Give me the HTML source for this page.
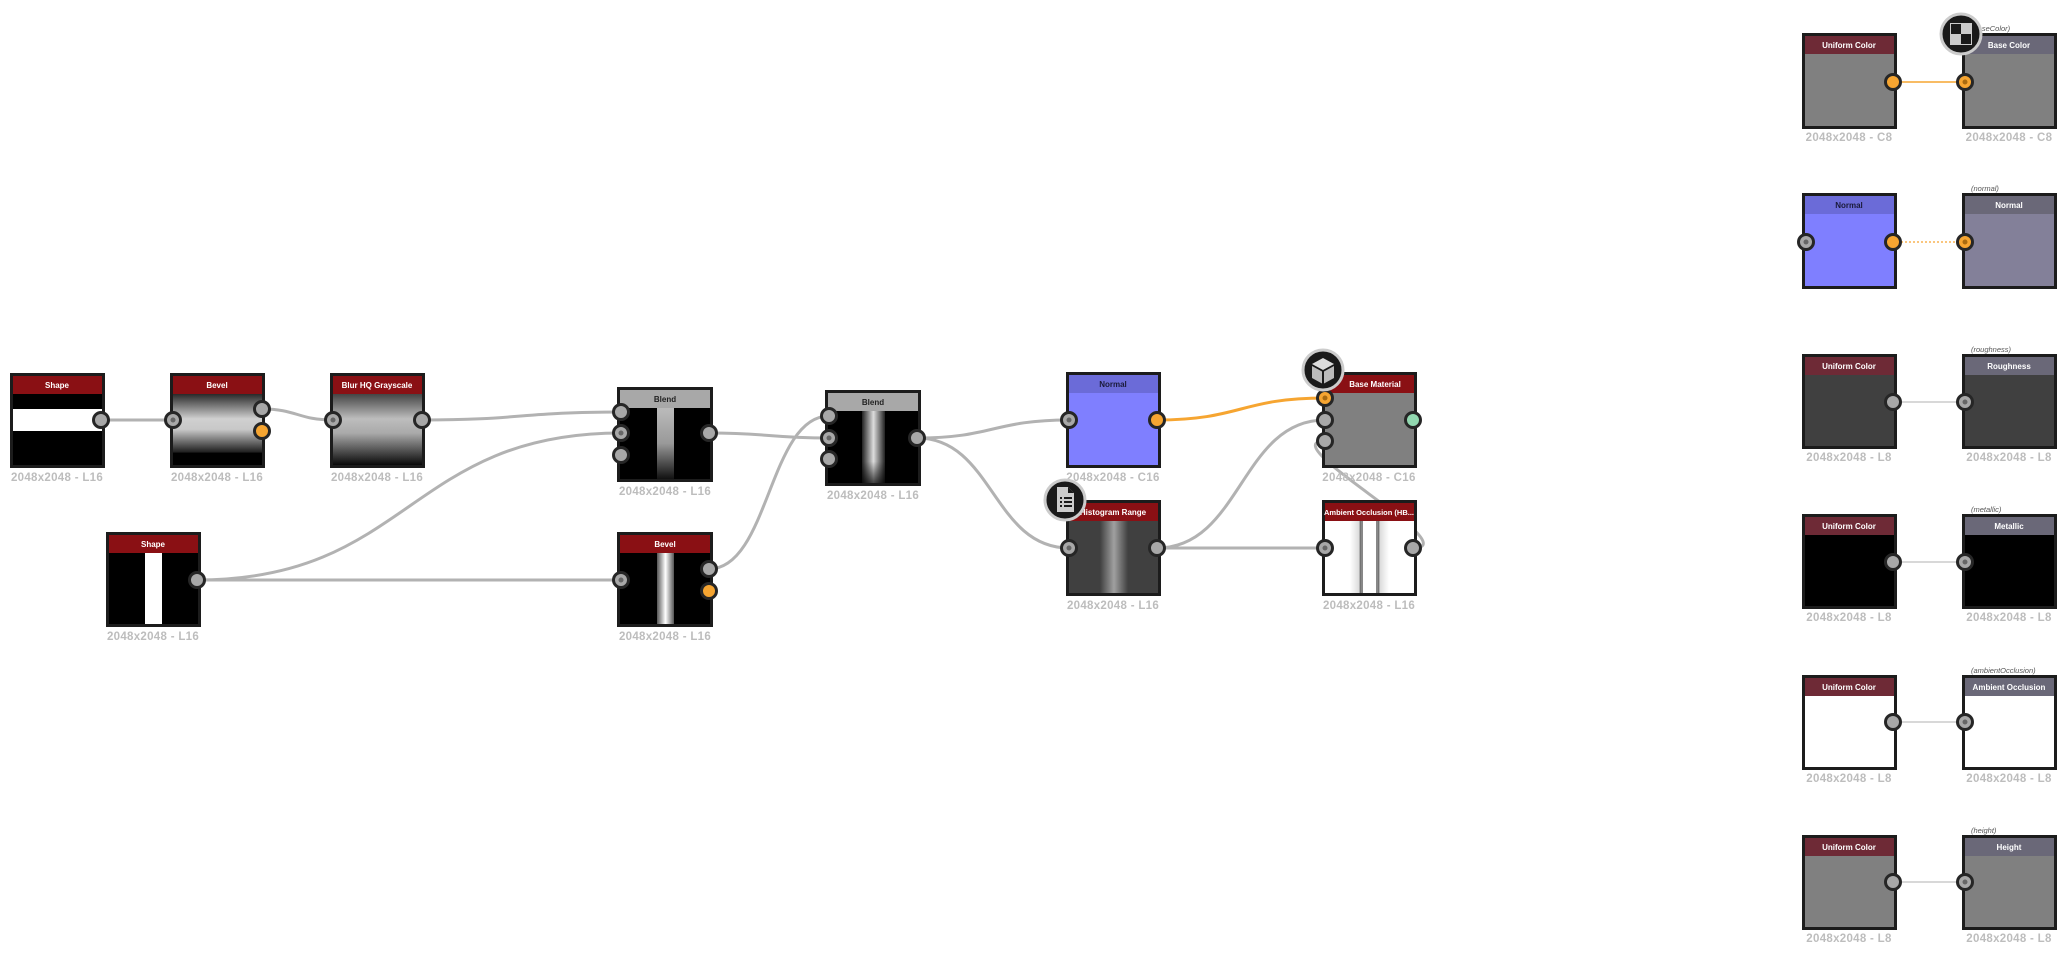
<!DOCTYPE html>
<html><head><meta charset="utf-8"><style>
html,body{margin:0;padding:0;background:#fff;}
svg{display:block;}
text{font-family:"Liberation Sans",sans-serif;}
.h{font-size:8px;font-weight:bold;fill:#fff;text-anchor:middle;}
.hd{font-size:8px;font-weight:bold;fill:#1a1a3a;text-anchor:middle;}
.lb{font-size:11.5px;font-weight:bold;fill:#bdbdbd;text-anchor:middle;letter-spacing:0.3px;}
.it{font-size:7.5px;font-style:italic;fill:#555;}
.ln{fill:none;stroke:#b2b2b2;stroke-width:3;}
.pt{fill:#a8a8a8;stroke:#262626;stroke-width:3;}
.po{fill:#f6a531;stroke:#262626;stroke-width:3;}
.dot{fill:#666;}
</style></head><body>
<svg width="2067" height="957" viewBox="0 0 2067 957" xmlns="http://www.w3.org/2000/svg">
<defs>
<linearGradient id="bev" x1="0" y1="0" x2="0" y2="1">
<stop offset="0" stop-color="#2a2a2a"/><stop offset="0.35" stop-color="#d0d0d0"/><stop offset="0.5" stop-color="#c8c8c8"/><stop offset="0.82" stop-color="#1e1e1e"/><stop offset="0.83" stop-color="#000"/><stop offset="1" stop-color="#000"/></linearGradient>
<linearGradient id="blur" x1="0" y1="0" x2="0" y2="1">
<stop offset="0" stop-color="#444"/><stop offset="0.35" stop-color="#bdbdbd"/><stop offset="0.55" stop-color="#aaa"/><stop offset="1" stop-color="#0a0a0a"/></linearGradient>
<linearGradient id="bl1" x1="0" y1="0" x2="0" y2="1">
<stop offset="0" stop-color="#bbb"/><stop offset="0.5" stop-color="#999"/><stop offset="1" stop-color="#111"/></linearGradient>
<linearGradient id="bevh" x1="0" y1="0" x2="1" y2="0">
<stop offset="0" stop-color="#555"/><stop offset="0.5" stop-color="#fff"/><stop offset="1" stop-color="#555"/></linearGradient>
<linearGradient id="bl2" x1="0" y1="0" x2="1" y2="0">
<stop offset="0" stop-color="#222"/><stop offset="0.5" stop-color="#ddd"/><stop offset="1" stop-color="#222"/></linearGradient>
<linearGradient id="bl2v" x1="0" y1="0" x2="0" y2="1">
<stop offset="0" stop-color="#000" stop-opacity="0"/><stop offset="0.7" stop-color="#000" stop-opacity="0"/><stop offset="1" stop-color="#000" stop-opacity="0.7"/></linearGradient>
<linearGradient id="hist" x1="0" y1="0" x2="1" y2="0">
<stop offset="0" stop-color="#404040"/><stop offset="0.5" stop-color="#a0a0a0"/><stop offset="1" stop-color="#404040"/></linearGradient>
<linearGradient id="aol" x1="0" y1="0" x2="1" y2="0">
<stop offset="0" stop-color="#fff"/><stop offset="0.8" stop-color="#ddd"/><stop offset="1" stop-color="#555"/></linearGradient>
<linearGradient id="aor" x1="0" y1="0" x2="1" y2="0">
<stop offset="0" stop-color="#555"/><stop offset="0.2" stop-color="#ddd"/><stop offset="1" stop-color="#fff"/></linearGradient>
</defs>

<path class="ln" d="M1413,548 C1470,548 1270,441 1325,441"/>
<path class="ln" d="M101,420 L173,420"/>
<path class="ln" d="M262,409 C297,409 298,420 333,420"/>
<path class="ln" d="M422,420 C521,420 521,412 621,412"/>
<path class="ln" d="M197,580 C409,580 409,433 621,433"/>
<path class="ln" d="M197,580 L621,580"/>
<path class="ln" d="M709,433 C769,433 769,438 829,438"/>
<path class="ln" d="M709,569 C769,569 769,416 829,416"/>
<path class="ln" d="M917,438 C993,438 993,420 1069,420"/>
<path class="ln" d="M917,438 C993,438 993,548 1069,548"/>
<path fill="none" stroke="#f6a531" stroke-width="3" d="M1157,420 C1241,420 1241,398 1325,398"/>
<path class="ln" d="M1157,548 C1241,548 1241,420 1325,420"/>
<path class="ln" d="M1157,548 L1325,548"/>

<rect x="10" y="373" width="95" height="95" fill="#1c1c1c"/>
<rect x="13" y="376" width="89" height="89" fill="#000"/>
<rect x="13" y="409" width="89" height="22" fill="#fff"/>
<rect x="13" y="376" width="89" height="18" fill="#8a1014"/>
<text class="h" x="57" y="388">Shape</text>
<text class="lb" x="57" y="481">2048x2048 - L16</text>
<circle class="pt" cx="101" cy="420" r="7.5"/>

<rect x="170" y="373" width="95" height="95" fill="#1c1c1c"/>
<rect x="173" y="394" width="89" height="71" fill="url(#bev)"/>
<rect x="173" y="376" width="89" height="18" fill="#8a1014"/>
<text class="h" x="217" y="388">Bevel</text>
<text class="lb" x="217" y="481">2048x2048 - L16</text>
<circle class="pt" cx="173" cy="420" r="7.5"/><circle class="dot" cx="173" cy="420" r="2.5"/>
<circle class="pt" cx="262" cy="409" r="7.5"/>
<circle class="po" cx="262" cy="431" r="7.5"/>

<rect x="330" y="373" width="95" height="95" fill="#1c1c1c"/>
<rect x="333" y="394" width="89" height="71" fill="url(#blur)"/>
<rect x="333" y="376" width="89" height="18" fill="#8a1014"/>
<text class="h" x="377" y="388">Blur HQ Grayscale</text>
<text class="lb" x="377" y="481">2048x2048 - L16</text>
<circle class="pt" cx="333" cy="420" r="7.5"/><circle class="dot" cx="333" cy="420" r="2.5"/>
<circle class="pt" cx="422" cy="420" r="7.5"/>

<rect x="106" y="532" width="95" height="95" fill="#1c1c1c"/>
<rect x="109" y="535" width="89" height="89" fill="#000"/>
<rect x="145" y="553" width="17" height="71" fill="#fff"/>
<rect x="109" y="535" width="89" height="18" fill="#8a1014"/>
<text class="h" x="153" y="547">Shape</text>
<text class="lb" x="153" y="640">2048x2048 - L16</text>
<circle class="pt" cx="197" cy="580" r="7.5"/>

<rect x="617" y="387" width="96" height="95" fill="#1c1c1c"/>
<rect x="620" y="390" width="90" height="89" fill="#000"/>
<rect x="657" y="408" width="17" height="71" fill="url(#bl1)"/>
<rect x="620" y="390" width="90" height="18" fill="#a8a8a8"/>
<text class="h" x="665" y="402" style="fill:#222">Blend</text>
<text class="lb" x="665" y="495">2048x2048 - L16</text>
<circle class="pt" cx="621" cy="412" r="7.5"/>
<circle class="pt" cx="621" cy="433" r="7.5"/><circle class="dot" cx="621" cy="433" r="2.5"/>
<circle class="pt" cx="621" cy="455" r="7.5"/>
<circle class="pt" cx="709" cy="433" r="7.5"/>

<rect x="617" y="532" width="96" height="95" fill="#1c1c1c"/>
<rect x="620" y="535" width="90" height="89" fill="#000"/>
<rect x="657" y="553" width="17" height="71" fill="url(#bevh)"/>
<rect x="620" y="535" width="90" height="18" fill="#8a1014"/>
<text class="h" x="665" y="547">Bevel</text>
<text class="lb" x="665" y="640">2048x2048 - L16</text>
<circle class="pt" cx="621" cy="580" r="7.5"/><circle class="dot" cx="621" cy="580" r="2.5"/>
<circle class="pt" cx="709" cy="569" r="7.5"/>
<circle class="po" cx="709" cy="591" r="7.5"/>

<rect x="825" y="390" width="96" height="96" fill="#1c1c1c"/>
<rect x="828" y="393" width="90" height="90" fill="#000"/>
<rect x="862" y="411" width="23" height="72" fill="url(#bl2)"/>
<rect x="862" y="411" width="23" height="72" fill="url(#bl2v)"/>
<rect x="828" y="393" width="90" height="18" fill="#a8a8a8"/>
<text class="h" x="873" y="405" style="fill:#222">Blend</text>
<text class="lb" x="873" y="499">2048x2048 - L16</text>
<circle class="pt" cx="829" cy="416" r="7.5"/>
<circle class="pt" cx="829" cy="438" r="7.5"/><circle class="dot" cx="829" cy="438" r="2.5"/>
<circle class="pt" cx="829" cy="459" r="7.5"/>
<circle class="pt" cx="917" cy="438" r="7.5"/>

<rect x="1066" y="372" width="95" height="96" fill="#1c1c1c"/>
<rect x="1069" y="375" width="89" height="90" fill="#7f7fff"/>
<rect x="1069" y="375" width="89" height="18" fill="#6b6bd8"/>
<text class="hd" x="1113" y="387">Normal</text>
<text class="lb" x="1113" y="481">2048x2048 - C16</text>
<circle class="pt" cx="1069" cy="420" r="7.5"/><circle class="dot" cx="1069" cy="420" r="2.5"/>
<circle class="po" cx="1157" cy="420" r="7.5"/>

<rect x="1066" y="500" width="95" height="96" fill="#1c1c1c"/>
<rect x="1069" y="503" width="89" height="90" fill="#404040"/>
<rect x="1100" y="521" width="28" height="72" fill="url(#hist)"/>
<rect x="1069" y="503" width="89" height="18" fill="#8a1014"/>
<text class="h" x="1113" y="515">Histogram Range</text>
<text class="lb" x="1113" y="609">2048x2048 - L16</text>
<circle class="pt" cx="1069" cy="548" r="7.5"/><circle class="dot" cx="1069" cy="548" r="2.5"/>
<circle class="pt" cx="1157" cy="548" r="7.5"/>
<circle cx="1065" cy="500" r="20" fill="#1a1a1a" stroke="#ccc" stroke-width="3"/>
<path d="M1057,487 h11 l6,6 v19 h-17 z" fill="#ccc"/>
<path d="M1068,487 v6 h6" fill="#1a1a1a"/>
<rect x="1060" y="497" width="2" height="2" fill="#1a1a1a"/><rect x="1064" y="497" width="8" height="2" fill="#1a1a1a"/>
<rect x="1060" y="501" width="2" height="2" fill="#1a1a1a"/><rect x="1064" y="501" width="8" height="2" fill="#1a1a1a"/>
<rect x="1060" y="505" width="2" height="2" fill="#1a1a1a"/><rect x="1064" y="505" width="8" height="2" fill="#1a1a1a"/>

<rect x="1322" y="372" width="95" height="96" fill="#1c1c1c"/>
<rect x="1325" y="375" width="89" height="90" fill="#808080"/>
<rect x="1325" y="375" width="89" height="18" fill="#8a1014"/>
<text class="h" x="1375" y="387">Base Material</text>
<text class="lb" x="1369" y="481">2048x2048 - C16</text>
<circle class="po" cx="1325" cy="398" r="7.5"/><circle cx="1325" cy="398" r="2.5" fill="#a86a10"/>
<circle class="pt" cx="1325" cy="420" r="7.5"/>
<circle class="pt" cx="1325" cy="441" r="7.5"/>
<circle cx="1413" cy="420" r="7.5" fill="#92d8b0" stroke="#262626" stroke-width="3"/>
<circle cx="1323" cy="370" r="20" fill="#1a1a1a" stroke="#ccc" stroke-width="3"/>
<path d="M1323,358 l11,6 l-11,6 l-11,-6 z" fill="#ddd"/>
<path d="M1312,366 l10,5.5 v12 l-10,-5.5 z" fill="#bbb"/>
<path d="M1334,366 l-10,5.5 v12 l10,-5.5 z" fill="#bbb"/>

<rect x="1322" y="500" width="95" height="96" fill="#1c1c1c"/>
<rect x="1325" y="503" width="89" height="90" fill="#fff"/>
<rect x="1350" y="521" width="11" height="72" fill="url(#aol)"/>
<rect x="1361" y="521" width="2" height="72" fill="#888"/>
<rect x="1376" y="521" width="2" height="72" fill="#888"/>
<rect x="1378" y="521" width="11" height="72" fill="url(#aor)"/>
<rect x="1325" y="503" width="89" height="18" fill="#8a1014"/>
<text class="h" x="1369" y="515" style="font-size:7.5px">Ambient Occlusion (HB...</text>
<text class="lb" x="1369" y="609">2048x2048 - L16</text>
<circle class="pt" cx="1325" cy="548" r="7.5"/><circle class="dot" cx="1325" cy="548" r="2.5"/>
<circle class="pt" cx="1413" cy="548" r="7.5"/>

<path d="M1893,82 L1965,82" stroke="#f6a531" stroke-width="1.5"/>
<rect x="1802" y="33" width="95" height="96" fill="#1c1c1c"/><rect x="1805" y="36" width="89" height="90" fill="#808080"/><rect x="1805" y="36" width="89" height="18" fill="#6e2a36"/>
<text class="h" x="1849" y="48">Uniform Color</text><text class="lb" x="1849" y="141">2048x2048 - C8</text>
<circle class="po" cx="1893" cy="82" r="7.5"/>
<rect x="1962" y="33" width="95" height="96" fill="#1c1c1c"/><rect x="1965" y="36" width="89" height="90" fill="#808080"/><rect x="1965" y="36" width="89" height="18" fill="#6a6878"/>
<text class="h" x="2009" y="48">Base Color</text><text class="lb" x="2009" y="141">2048x2048 - C8</text>
<text class="it" x="1971" y="31">(baseColor)</text>
<circle class="po" cx="1965" cy="82" r="7.5"/><circle cx="1965" cy="82" r="2.5" fill="#a86a10"/>
<circle cx="1961" cy="34" r="20" fill="#1a1a1a" stroke="#ccc" stroke-width="3"/>
<rect x="1950" y="23" width="22" height="22" fill="#ccc"/><rect x="1951" y="24" width="10" height="10" fill="#1a1a1a"/><rect x="1961" y="34" width="10" height="10" fill="#1a1a1a"/>

<path d="M1893,242 L1965,242" stroke="#f6a531" stroke-width="1.2" stroke-dasharray="2,2"/>
<rect x="1802" y="193" width="95" height="96" fill="#1c1c1c"/><rect x="1805" y="196" width="89" height="90" fill="#7f7fff"/><rect x="1805" y="196" width="89" height="18" fill="#6b6bd8"/>
<text class="hd" x="1849" y="208">Normal</text>
<circle class="pt" cx="1806" cy="242" r="7.5"/><circle class="dot" cx="1806" cy="242" r="2.5"/>
<circle class="po" cx="1893" cy="242" r="7.5"/>
<rect x="1962" y="193" width="95" height="96" fill="#1c1c1c"/><rect x="1965" y="196" width="89" height="90" fill="#838099"/><rect x="1965" y="196" width="89" height="18" fill="#6a6878"/>
<text class="h" x="2009" y="208">Normal</text>
<text class="it" x="1971" y="191">(normal)</text>
<circle class="po" cx="1965" cy="242" r="7.5"/><circle cx="1965" cy="242" r="2.5" fill="#a86a10"/>

<path d="M1893,402 L1965,402" stroke="#ccc" stroke-width="1.5"/>
<rect x="1802" y="354" width="95" height="95" fill="#1c1c1c"/><rect x="1805" y="357" width="89" height="89" fill="#404040"/><rect x="1805" y="357" width="89" height="18" fill="#6e2a36"/>
<text class="h" x="1849" y="369">Uniform Color</text><text class="lb" x="1849" y="461">2048x2048 - L8</text>
<circle class="pt" cx="1893" cy="402" r="7.5"/>
<rect x="1962" y="354" width="95" height="95" fill="#1c1c1c"/><rect x="1965" y="357" width="89" height="89" fill="#404040"/><rect x="1965" y="357" width="89" height="18" fill="#6a6878"/>
<text class="h" x="2009" y="369">Roughness</text><text class="lb" x="2009" y="461">2048x2048 - L8</text>
<text class="it" x="1971" y="352">(roughness)</text>
<circle class="pt" cx="1965" cy="402" r="7.5"/><circle class="dot" cx="1965" cy="402" r="2.5"/>

<path d="M1893,562 L1965,562" stroke="#ccc" stroke-width="1.5"/>
<rect x="1802" y="514" width="95" height="95" fill="#1c1c1c"/><rect x="1805" y="517" width="89" height="89" fill="#000"/><rect x="1805" y="517" width="89" height="18" fill="#6e2a36"/>
<text class="h" x="1849" y="529">Uniform Color</text><text class="lb" x="1849" y="621">2048x2048 - L8</text>
<circle class="pt" cx="1893" cy="562" r="7.5"/>
<rect x="1962" y="514" width="95" height="95" fill="#1c1c1c"/><rect x="1965" y="517" width="89" height="89" fill="#000"/><rect x="1965" y="517" width="89" height="18" fill="#6a6878"/>
<text class="h" x="2009" y="529">Metallic</text><text class="lb" x="2009" y="621">2048x2048 - L8</text>
<text class="it" x="1971" y="512">(metallic)</text>
<circle class="pt" cx="1965" cy="562" r="7.5"/><circle class="dot" cx="1965" cy="562" r="2.5"/>

<path d="M1893,722 L1965,722" stroke="#ccc" stroke-width="1.5"/>
<rect x="1802" y="675" width="95" height="95" fill="#1c1c1c"/><rect x="1805" y="678" width="89" height="89" fill="#fff"/><rect x="1805" y="678" width="89" height="18" fill="#6e2a36"/>
<text class="h" x="1849" y="690">Uniform Color</text><text class="lb" x="1849" y="782">2048x2048 - L8</text>
<circle class="pt" cx="1893" cy="722" r="7.5"/>
<rect x="1962" y="675" width="95" height="95" fill="#1c1c1c"/><rect x="1965" y="678" width="89" height="89" fill="#fff"/><rect x="1965" y="678" width="89" height="18" fill="#6a6878"/>
<text class="h" x="2009" y="690">Ambient Occlusion</text><text class="lb" x="2009" y="782">2048x2048 - L8</text>
<text class="it" x="1971" y="673">(ambientOcclusion)</text>
<circle class="pt" cx="1965" cy="722" r="7.5"/><circle class="dot" cx="1965" cy="722" r="2.5"/>

<path d="M1893,882 L1965,882" stroke="#ccc" stroke-width="1.5"/>
<rect x="1802" y="835" width="95" height="95" fill="#1c1c1c"/><rect x="1805" y="838" width="89" height="89" fill="#808080"/><rect x="1805" y="838" width="89" height="18" fill="#6e2a36"/>
<text class="h" x="1849" y="850">Uniform Color</text><text class="lb" x="1849" y="942">2048x2048 - L8</text>
<circle class="pt" cx="1893" cy="882" r="7.5"/>
<rect x="1962" y="835" width="95" height="95" fill="#1c1c1c"/><rect x="1965" y="838" width="89" height="89" fill="#808080"/><rect x="1965" y="838" width="89" height="18" fill="#6a6878"/>
<text class="h" x="2009" y="850">Height</text><text class="lb" x="2009" y="942">2048x2048 - L8</text>
<text class="it" x="1971" y="833">(height)</text>
<circle class="pt" cx="1965" cy="882" r="7.5"/><circle class="dot" cx="1965" cy="882" r="2.5"/>
</svg>
</body></html>
